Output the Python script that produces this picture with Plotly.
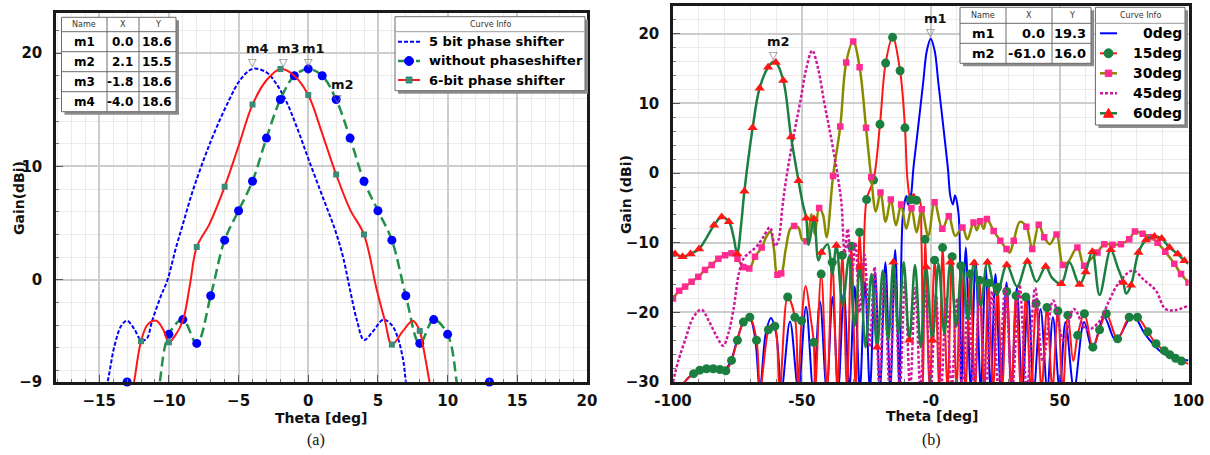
import plotly.graph_objects as go

W, H = 1210, 455
FONT = "DejaVu Sans"

# ======================= panel (a) data =======================
a5_x = [-15.0, -14.4, -13.9, -13.4, -13.0, -12.5, -12.0, -11.6, -11.2, -10.6, -10.1, -9.5, -9.0, -8.3, -7.5, -6.8,
        -5.7, -4.9, -4.0, -3.0, -2.3, -1.6, -0.8, 0.0, 1.1, 1.9, 2.5, 3.0, 3.5, 4.0, 4.6, 5.4, 6.0, 6.4, 6.8, 7.0, 7.3]
a5_y = [-12.0, -9.0, -5.8, -4.0, -3.6, -4.3, -5.3, -5.2, -3.6, -1.5, 0.0, 2.8, 4.9, 7.8, 10.6, 12.8,
        15.8, 17.6, 18.6, 18.3, 17.3, 15.8, 13.4, 10.7, 7.1, 4.5, 2.0, -0.9, -3.6, -5.3, -4.6, -3.5, -4.0, -5.0, -7.0, -9.0, -12.0]

a6_x = [-13.0, -12.5, -12.0, -11.5, -10.9, -10.4, -10.0, -9.6, -9.0, -8.5, -8.0, -7.1, -6.0, -5.0, -4.0, -3.0,
        -2.0, -1.0, 0.0, 1.0, 2.0, 3.0, 4.0, 4.9, 5.5, 6.0, 6.8, 7.5, 8.0, 8.2, 8.7, 9.1]
a6_y = [-12.0, -9.0, -5.4, -3.9, -3.6, -4.4, -5.5, -5.0, -3.6, -0.5, 2.9, 4.9, 8.2, 11.8, 15.45, 17.6,
        18.6, 18.0, 16.3, 12.9, 9.3, 6.2, 4.0, -0.8, -3.6, -5.7, -4.5, -3.6, -4.5, -5.6, -9.0, -12.0]
a6_mk = [-12.0, -10.0, -8.0, -6.0, -4.0, -2.0, 0.0, 2.0, 4.0, 6.0, 8.0]

awo_x = [-13.0, -12.0, -11.0, -10.65, -10.0, -9.0, -8.0, -7.0, -6.0, -5.0, -4.0, -3.0, -2.0, -1.0, 0.0,
         1.0, 2.0, 3.0, 4.0, 5.0, 6.0, 7.0, 8.0, 9.0, 10.0, 10.65, 11.0, 12.0, 13.0]
awo_y = [-9.0, -16.0, -13.0, -9.0, -4.8, -3.5, -5.6, -1.4, 3.5, 6.1, 8.7, 12.5, 15.9, 18.0, 18.6,
         18.0, 15.9, 12.5, 8.7, 6.1, 3.5, -1.4, -5.6, -3.5, -4.8, -9.0, -13.0, -16.0, -9.0]
awo_mk = [-13.0, -10.0, -9.0, -8.0, -7.0, -6.0, -5.0, -4.0, -3.0, -2.0, -1.0, 0.0, 1.0, 2.0, 3.0,
          4.0, 5.0, 6.0, 7.0, 8.0, 9.0, 10.0, 13.0]

a_names = ["5 bit phase shifter", "without phaseshifter", "6-bit phase shifter"]
a_mk_name = ["m1", "m2", "m3", "m4"]
a_mk_x = [0.0, 2.1, -1.8, -4.0]
a_mk_y = [18.6, 15.5, 18.6, 18.6]
a_xticks = [-15, -10, -5, 0, 5, 10, 15, 20]
a_yticks = [-9, 0, 10, 20]

# ======================= panel (b) data =======================
b0_x = [-100, -95.5, -92, -88, -84, -80, -77.5, -75, -72.5, -70.3, -68.2, -66.3, -64, -62, -60, -57.9, -54.6, -51.4,
        -48.4, -45.6, -43, -40.4, -38.1, -35.9, -33.7, -31.6, -29.5, -27.5, -25.5, -23.6, -21.6, -19.7, -17.6, -15.7,
        -13.8, -12.1, -10.8, -9.4, -8.8, -7.8, -6.7, -5.2, -3, -1.5, 0, 1.5, 3, 5.2, 6.7, 7.6, 8.6, 9.4, 10.8, 11.8,
        13.6, 15.5, 17.4, 19.4, 21.3, 23.2, 25.1, 27.2, 29.4, 31.3, 33.4, 35.5, 37.8, 40, 42.6, 45.2, 47.4, 50, 52.3,
        55.6, 59.5, 62.7, 67.3, 71.8, 78.3, 83.5, 90.6, 100]
b0_y = [-34, -30, -28.8, -28.1, -28.2, -28.3, -26.9, -23.8, -21.3, -20.7, -23.5, -31, -23, -20.8, -23, -31, -21.3, -31,
        -19.2, -31, -18.4, -31, -17.8, -31, -17.1, -31, -16.3, -31, -15.6, -31, -14.2, -31, -12.8, -31,
        -11, -31, -6, -3.3, -4.5, -3.5, 0.8, 5.6, 12.8, 17.6, 19.3, 17.6, 12.8, 5.6, 0.5, -3.3, -4.5, -3.2, -5.9, -31,
        -10.7, -31, -12.6, -31, -13.5, -31, -14.5, -31, -15.7, -31, -16.4, -31, -17.6, -31, -19.5, -31, -20.7, -31, -21.4,
        -31, -21.4, -25.2, -20.7, -24, -20.5, -23.3, -26, -26.9]

b15_x = [-100, -95.5, -92, -89.6, -87, -84.4, -81.8, -79.5, -77.3, -75, -72.7, -70.2, -67.6, -66.2, -63, -61.8, -60.5,
         -58.6, -55.5, -52.7, -51.5, -50.1, -48.5, -46.7, -45.4, -44.8, -42.5, -40.2, -38.2, -36.2, -34.3, -32.5, -30.8,
         -29.1, -27.6, -26.3, -24.9, -22.2, -19.7, -17.5, -14.8, -11.9, -10, -9, -7.8, -6.6, -5.6, -4.5, -3.6, -3.0,
         -2.2, -0.4, 1.5, 3.3, 4.6, 6.5, 8.3, 10.0, 11.7, 13.5, 15.3, 17.2, 18.9, 20.7, 22.4, 24.2, 25.9, 27.7, 29.5,
         31.3, 33.1, 35.0, 36.9, 38.9, 40.9, 43.0, 45.1, 47.2, 49.3, 51.3, 53.2, 55.3, 57.0, 59.6, 62.9, 65.5, 68.1,
         72.5, 77.0, 80.2, 84.2, 87.4, 90.6, 92.8, 95.0, 97.3, 100]
b15_y = [-34, -30, -28.8, -28.3, -28.1, -28.1, -28.2, -28.4, -26.9, -24, -21.4, -20.7, -24, -31, -22.5, -21.8, -22,
         -31, -17.8, -20.7, -31, -21.2, -16.2, -20.5, -24.3, -31, -14.5, -31, -12.8, -31, -11.8, -31, -10.5,
         -31, -8.5, -18, -3.8, -1.0, 7.0, 15.8, 19.5, 14.7, 6.5, -1.1, -3.8, -3.0, -3.9, -3.7, -9.8, -31,
         -9.5, -31, -12.5, -31, -10.7, -31, -12.0, -31, -13.3, -31, -14.5, -31, -15.4, -31, -15.8, -31, -16.4, -31, -17.0,
         -31, -17.6, -31, -17.8, -31, -18.7, -31, -19.3, -31, -19.8, -31, -20.4, -27, -23.3, -20.2, -25.0, -22.5, -20.2,
         -23.8, -20.7, -20.7, -22.8, -24.5, -25.5, -26.1, -26.6, -27.0, -27.4]
b15_mk = [-92, -89.6, -87, -84.4, -81.8, -79.5, -77.3, -75, -72.7, -70.2, -67.6, -63, -60.5, -55.5, -52.7, -50.1,
          -45.4, -42.5, -38.2, -34.3, -30.8, -27.6, -24.9, -22.2, -19.7, -17.5, -14.8, -11.9, -10, -7.8, -5.6, -2.2,
          1.5, 4.6, 8.3, 11.7, 15.3, 18.9, 22.4, 25.9, 29.5, 33.1, 36.9, 40.9, 45.1, 49.3, 53.2, 57.0, 59.6, 62.9,
          65.5, 68.1, 72.5, 77.0, 80.2, 84.2, 87.4, 90.6, 92.8, 95.0, 97.3]

b30_x = [-100, -97.6, -95.3, -92.8, -90.2, -87.6, -85, -82.4, -79.8, -77.3, -75, -72.7, -70.4, -68.2, -65.6, -63.6,
         -62.2, -60.8, -59.5, -58.0, -56.3, -54.5, -53.0, -51.4, -49.8, -48.2, -46.3, -45.0, -43.3, -41.8, -40.4, -37.9,
         -35.1, -32.8, -30.1, -27.6, -25.1, -23.1, -21.3, -19.5, -17.5, -15.5, -13.5, -11.5, -9.5, -7.5, -5.5, -3.5,
         -1.0, 1.5, 4.5, 7.0, 9.5, 12.3, 14.2, 16.6, 17.9, 19.2, 20.5, 21.8, 24.4, 27.0, 29.4, 30.6, 32.2, 34.6, 37.1,
         39.4, 41.9, 44.0, 46.2, 48.8, 51.3, 53.2, 56.9, 59.5, 62.0, 64.7, 67.3, 70.5, 73.8, 77.0, 79.2, 82.2, 85.2,
         88.0, 91.0, 94.5, 97.1, 100]
b30_y = [-18.0, -16.9, -16.3, -15.6, -14.9, -13.9, -13.2, -12.3, -11.8, -11.5, -12.3, -13.5, -13.7, -12.0, -10.7, -9.0,
         -8.4, -11.0, -14.6, -14.4, -11.0, -8.0, -7.6, -7.8, -9.6, -9.8, -5.9, -8.8, -5.0, -6.0, -9.2, -0.4,
         6.7, 15.9, 18.9, 15.2, 6.5, -0.6, -5.5, -2.8, -7.0, -3.8, -7.5, -4.5, -8.0, -5.0, -8.5, -5.2,
         -9.0, -4.2, -8.0, -6.2, -9.0, -7.8, -9.5, -7.1, -8.2, -6.9, -8.0, -6.6, -8.3, -9.7, -10.9, -11.4, -9.7, -7.0, -7.7,
         -10.9, -7.4, -9.2, -10.2, -8.8, -13.2, -12.8, -10.7, -13.3, -12.4, -11.4, -10.2, -10.3, -10.2, -9.5, -8.4, -8.7, -9.2,
         -10.0, -11.3, -13.0, -14.5, -15.7]
b30_mk = [-100, -97.6, -95.3, -92.8, -90.2, -87.6, -85, -82.4, -79.8, -77.3, -75, -72.7, -70.4, -68.2, -65.6, -59.5,
          -58.0, -53.0, -48.2, -43.3, -37.9, -35.1, -32.8, -30.1, -27.6, -25.1, -23.1, -19.5, -15.5, -11.5, -7.5, -3.5,
          1.5, 4.5, 7.0, 12.3, 16.6, 19.2, 21.8, 24.4, 27.0, 29.4, 32.2, 37.1, 39.4, 41.9, 44.0, 48.8, 51.3, 56.9,
          59.5, 64.7, 67.3, 70.5, 73.8, 77.0, 79.2, 82.2, 85.2, 88.0, 91.0, 94.5, 97.1, 100]

b45_x = [-100, -97.9, -95.3, -92.1, -89.0, -86.0, -83.0, -80.5, -78.5, -76.5, -74.5, -72.5, -70.2, -67.5, -65.0,
         -62.4, -60.4, -59.0, -57.6, -56.4, -54.5, -52.6, -50.6, -48.3, -46.0, -43.7, -41.4, -39.4, -37.5, -35.6,
         -34.6, -33.4, -32.2, -30.7, -29.2, -27.6, -25.7, -23.7, -21.8, -19.9, -18.0, -16.0, -14.0, -12.0, -10.0,
         -8.0, -6.0, -4.0, -2.0, 0.0, 2.0, 4.0, 6.0, 8.1, 10.2, 12.3, 14.5, 16.7, 19.0, 21.4, 23.8, 26.3, 28.9, 31.6,
         34.4, 37.3, 40.5, 43.5, 47.5, 51.5, 55.5, 60.5, 65.0, 69.0, 72.7, 78.3, 82.9, 87.4, 91.0, 94.8, 100]
b45_y = [-30, -26.9, -24.0, -20.7, -19.6, -21.3, -23.5, -24.8, -23.0, -19.5, -14.5, -12.2, -11.4, -10.5, -9.2,
         -7.8, -10.5, -9.5, -5.0, -1.6, 2.7, 6.5, 10.3, 15.0, 17.6, 15.0, 10.3, 6.5, 2.7, -1.6,
         -4.5, -11.5, -8.0, -15.0, -10.0, -20.0, -11.7, -25.0, -13.5, -31, -14.5, -31, -15.0, -31, -15.5,
         -31, -16.5, -31, -17.0, -31, -17.5, -31, -18.0, -31, -18.0, -31, -18.0, -31, -17.5, -31, -17.0, -31, -16.5, -31,
         -16.0, -31, -16.5, -27.0, -18.3, -24.0, -19.5, -22.5, -21.5, -18.5, -15.9, -14.0, -15.4, -16.9, -19.5, -19.7, -19.0]

b60_x = [-100, -99.2, -96.3, -93.2, -89.9, -87.0, -84.1, -81.1, -78.3, -76.6, -75.1, -73.6, -72.3, -69.1, -66.4, -63.1,
         -61.0, -60.1, -57.2, -54.2, -51.3, -49.6, -48.3, -47.4, -45.3, -43.6, -42.4, -40.0, -38.2, -36.6, -34.2, -31.7,
         -29.6, -27.5, -25.3, -23.0, -20.8, -18.6, -16.5, -14.5, -12.5, -10.5, -8.3, -6.1, -3.9, -1.8, 0.6, 3.0, 5.3,
         7.6, 9.9, 12.1, 14.4, 16.8, 19.4, 22.0, 25.6, 29.5, 33.5, 37.5, 41.0, 44.6, 47.0, 50.6, 53.8, 57.7, 60.1, 62.7,
         65.5, 69.8, 72.5, 74.7, 75.8, 77.7, 80.6, 83.5, 86.8, 89.6, 92.6, 95.8, 98.4, 100]
b60_y = [-11.5, -11.6, -12.0, -11.6, -10.9, -9.3, -7.5, -6.3, -7.0, -9.0, -11.6, -7.5, -2.6, 6.5, 12.2, 15.2,
         16.0, 15.9, 13.3, 5.2, -1.1, -4.5, -6.5, -10.3, -6.6, -12.5, -11.4, -10.2, -14.5, -10.4, -19.0, -12.0,
         -22.0, -13.5, -25.0, -14.5, -25.0, -14.0, -24.0, -12.8, -23.0, -12.8, -24.0, -13.2, -25.0, -13.5, -24.0, -13.0, -23.0,
         -12.8, -22.0, -13.0, -21.0, -12.9, -19.0, -12.8, -17.5, -13.2, -16.3, -12.7, -15.6, -13.4, -15.0, -15.9, -12.8, -16.0,
         -14.2, -11.3, -17.5, -11.0, -13.5, -15.7, -17.3, -16.1, -11.4, -9.6, -9.1, -9.4, -10.7, -11.6, -12.6, -13.0]
b60_mk = [-99.2, -96.3, -93.2, -89.9, -84.1, -81.1, -78.3, -75.1, -72.3, -69.1, -66.4, -63.1, -60.1, -57.2, -54.2,
          -51.3, -48.3, -45.3, -42.4, -36.6, -27.5, -20.8, -14.5, -8.3, -1.8, 0.6, 7.6, 16.8, 22.0, 29.5, 37.5, 44.6,
          50.6, 57.7, 60.1, 62.7, 69.8, 74.7, 77.7, 80.6, 83.5, 86.8, 89.6, 92.6, 95.8, 98.4]

b_names = ["0deg", "15deg", "30deg", "45deg", "60deg"]
b_mk_name = ["m1", "m2"]
b_mk_x = [0.0, -61.0]
b_mk_y = [19.3, 16.0]
b_xticks = [-100, -50, 0, 50, 100]
b_xticklabels = ["-100", "-50", "-0", "50", "100"]
b_yticks = [-30, -20, -10, 0, 10, 20]

for xs, ys in [(a5_x, a5_y), (a6_x, a6_y), (awo_x, awo_y), (b0_x, b0_y), (b15_x, b15_y),
               (b30_x, b30_y), (b45_x, b45_y), (b60_x, b60_y)]:
    assert len(xs) == len(ys), (len(xs), len(ys))


def pick(xs, ys, marks):
    lut = dict(zip(xs, ys))
    return list(marks), [lut[m] for m in marks]


# ======================= styles =======================
BLUE = "#0000ff"
RED = "#ff1616"
GREEN_A = "#23904a"
TEAL = "#3b8b79"
GREEN_B = "#1b7f40"
OLIVE = "#8a8a00"
PINK = "#ff2a92"
MAGENTA = "#d0189c"

fig = go.Figure()


def line_tr(x, y, color, width, dash, xa, ya):
    return go.Scatter(x=x, y=y, mode="lines", xaxis=xa, yaxis=ya, hoverinfo="skip",
                      line=dict(color=color, width=width, dash=dash, shape="spline", smoothing=1.0))


def mark_tr(x, y, symbol, size, color, xa, ya, clip=True):
    return go.Scatter(x=x, y=y, mode="markers", xaxis=xa, yaxis=ya, hoverinfo="skip", cliponaxis=clip,
                      marker=dict(symbol=symbol, size=size, color=color, line=dict(width=0)))


# panel (a)
fig.add_trace(line_tr(a5_x, a5_y, BLUE, 2, "4px,2px", "x", "y"))
fig.add_trace(line_tr(awo_x, awo_y, GREEN_A, 2.5, "10px,5px", "x", "y"))
mx, my = pick(awo_x, awo_y, awo_mk)
fig.add_trace(mark_tr(mx, my, "circle", 9, BLUE, "x", "y", clip=False))
fig.add_trace(line_tr(a6_x, a6_y, RED, 2, "solid", "x", "y"))
mx, my = pick(a6_x, a6_y, a6_mk)
fig.add_trace(mark_tr(mx, my, "square", 6, TEAL, "x", "y"))

# panel (b)
fig.add_trace(line_tr(b0_x, b0_y, BLUE, 2, "solid", "x2", "y2"))
fig.add_trace(line_tr(b15_x, b15_y, RED, 2, "solid", "x2", "y2"))
mx, my = pick(b15_x, b15_y, b15_mk)
fig.add_trace(mark_tr(mx, my, "circle", 9, GREEN_B, "x2", "y2"))
fig.add_trace(line_tr(b30_x, b30_y, OLIVE, 2.5, "solid", "x2", "y2"))
mx, my = pick(b30_x, b30_y, b30_mk)
fig.add_trace(mark_tr(mx, my, "square", 6.5, PINK, "x2", "y2"))
fig.add_trace(line_tr(b45_x, b45_y, MAGENTA, 2.5, "3px,2px", "x2", "y2"))
fig.add_trace(line_tr(b60_x, b60_y, GREEN_B, 2.5, "solid", "x2", "y2"))
mx, my = pick(b60_x, b60_y, b60_mk)
fig.add_trace(mark_tr(mx, my, "triangle-up", 9, RED, "x2", "y2"))

# ======================= axes =======================
tickfont = dict(family=FONT, size=15, color="#111", weight="bold")


def axis(**kw):
    d = dict(showline=True, linecolor="#1a1a1a", linewidth=2.5, mirror=True,
             ticks="inside", ticklen=7, tickwidth=1, tickcolor="#555",
             showgrid=True, gridcolor="#cdcdcd", gridwidth=1.5, zeroline=False,
             tickfont=tickfont, ticklabelstandoff=3, fixedrange=True, automargin=False)
    d.update(kw)
    return d


def minor(dt):
    return dict(dtick=dt, tick0=0, ticks="inside", ticklen=3, tickwidth=1, tickcolor="#777",
                showgrid=True, gridcolor="#ebebeb", gridwidth=1)


fig.update_layout(
    width=W, height=H, margin=dict(l=0, r=0, t=0, b=0, autoexpand=False),
    paper_bgcolor="white", plot_bgcolor="white", showlegend=False,
    xaxis=axis(domain=[56 / W, 587 / W], range=[-18.1, 20], tickmode="array", tickvals=a_xticks,
               minor=minor(1), anchor="y"),
    yaxis=axis(domain=[1 - 382 / H, 1 - 13.3 / H], range=[-9, 23.5], tickmode="array", tickvals=a_yticks,
               minor=minor(2), anchor="x", ticklabelstandoff=8),
    xaxis2=axis(domain=[673 / W, 1188.5 / W], range=[-100, 100], tickmode="array", tickvals=b_xticks,
                ticktext=b_xticklabels, minor=minor(10), anchor="y2"),
    yaxis2=axis(domain=[1 - 382 / H, 1 - 6 / H], range=[-30, 24], tickmode="array", tickvals=b_yticks,
                minor=minor(2), anchor="x2", ticklabelstandoff=8),
)

# ======================= decorations (titles, tables, legends, captions) =======================
shapes, annos = [], []


def fx(x):
    return x / W


def fy(y):
    return 1 - y / H


def rect(x0, y0, x1, y1, fill, line_color=None, lw=1):
    return dict(type="rect", xref="paper", yref="paper", x0=fx(x0), x1=fx(x1), y0=fy(y1), y1=fy(y0),
                fillcolor=fill, layer="above",
                line=dict(color=line_color if line_color else fill, width=lw if line_color else 0))


def seg(x0, y0, x1, y1, color, width=1, dash="solid"):
    return dict(type="line", xref="paper", yref="paper", x0=fx(x0), x1=fx(x1), y0=fy(y0), y1=fy(y1),
                layer="above", line=dict(color=color, width=width, dash=dash))


def mk_shape(symbol, xp, yp, size, color):
    r = size / 2
    d = dict(xref="paper", yref="paper", xsizemode="pixel", ysizemode="pixel", xanchor=fx(xp), yanchor=fy(yp),
             fillcolor=color, layer="above", line=dict(color=color, width=1))
    if symbol == "circle":
        d.update(type="circle", x0=-r, x1=r, y0=-r, y1=r)
    elif symbol == "square":
        d.update(type="rect", x0=-r, x1=r, y0=-r, y1=r)
    else:
        d.update(type="path", path=f"M{-r},{-r * 0.8} L{r},{-r * 0.8} L0,{r} Z")
    return d


def text(x, y, s, size, bold=True, anchor="center", color="#000", family=FONT, angle=0):
    annos.append(dict(xref="paper", yref="paper", x=fx(x), y=fy(y), text=s, showarrow=False,
                      xanchor=anchor, yanchor="middle", textangle=angle, borderpad=0,
                      font=dict(family=family, size=size, color=color, weight="bold" if bold else "normal")))


def add_table(xe, ye, names, xs, ys, size, pad_x, pad_y):
    shapes.append(rect(xe[0] + 3, ye[0] + 3, xe[-1] + 3, ye[-1] + 3, "#8c8c8c"))
    shapes.append(rect(xe[0], ye[0], xe[-1], ye[-1], "white", "#6a6a6a", 1))
    for x in xe[1:-1]:
        shapes.append(seg(x, ye[0], x, ye[-1], "#6a6a6a"))
    for y in ye[1:-1]:
        shapes.append(seg(xe[0], y, xe[-1], y, "#6a6a6a"))
    hy = (ye[0] + ye[1]) / 2
    for i, h in enumerate(["Name", "X", "Y"]):
        text((xe[i] + xe[i + 1]) / 2, hy, h, 8, bold=False, color="#333")
    for r, (n, xv, yv) in enumerate(zip(names, xs, ys)):
        cy = (ye[r + 1] + ye[r + 2]) / 2
        text((xe[0] + xe[1]) / 2, cy, n, size)
        text(xe[2] - pad_x, cy, f"{xv:.1f}", size, anchor="right")
        text(xe[3] - pad_y, cy, f"{yv:.1f}", size, anchor="right")


def add_legend(box, hline_y, head, entries, samp, text_x, anchor, size):
    x0, y0, x1, y1 = box
    shapes.append(rect(x0 + 3, y0 + 3, x1 + 3, y1 + 3, "#8c8c8c"))
    shapes.append(rect(x0, y0, x1, y1, "white", "#6a6a6a", 1))
    shapes.append(seg(x0, hline_y, x1, hline_y, "#9a9a9a"))
    text(head[0], head[1], "Curve Info", 8, bold=False, color="#333")
    for e in entries:
        shapes.append(seg(samp[0], e["y"], samp[1], e["y"], e["color"], e["width"], e["dash"]))
        if e.get("marker"):
            sym, col, sz = e["marker"]
            shapes.append(mk_shape(sym, (samp[0] + samp[1]) / 2, e["y"], sz, col))
        text(text_x, e["y"], e["label"], size, anchor=anchor)


# axis titles
text(321, 418, "Theta [deg]", 14, color="#111")
text(932, 416, "Theta [deg]", 14, color="#111")
text(19, 198, "Gain(dBi)", 14, color="#111", angle=-90)
text(626, 195, "Gain (dBi)", 14, color="#111", angle=-90)

# panel (a) table + legend
add_table([61.5, 107, 139, 176], [17.3, 31.7, 51.7, 71.7, 91.7, 111.7],
          a_mk_name, a_mk_x, a_mk_y, 12, 5, 3)
add_legend((395, 16.7, 585, 90.7), 31.7, (490, 24.5), [
    dict(y=41.7, color=BLUE, width=2, dash="4px,2px", label=a_names[0]),
    dict(y=61.0, color=GREEN_A, width=2.5, dash="6px,3px", marker=("circle", BLUE, 9), label=a_names[1]),
    dict(y=80.0, color=RED, width=2, dash="solid", marker=("square", TEAL, 6), label=a_names[2]),
], (398, 420), 428, "left", 13)

# panel (b) table + legend
add_table([960, 1006, 1052, 1091], [7.3, 23.3, 43.3, 63.3],
          b_mk_name, b_mk_x, b_mk_y, 13, 6, 4)
add_legend((1095.4, 7.3, 1185, 125), 23.3, (1140.5, 15.3), [
    dict(y=33.3, color=BLUE, width=2, dash="solid", label=b_names[0]),
    dict(y=53.3, color=RED, width=2, dash="solid", marker=("circle", GREEN_B, 9), label=b_names[1]),
    dict(y=73.3, color=OLIVE, width=2.5, dash="solid", marker=("square", PINK, 6.5), label=b_names[2]),
    dict(y=93.3, color=MAGENTA, width=2.5, dash="3px,2px", label=b_names[3]),
    dict(y=113.3, color=GREEN_B, width=2.5, dash="solid", marker=("triangle", RED, 10), label=b_names[4]),
], (1100, 1117), 1183, "right", 14)


# marker flags on the curves
def flag(xa, ya, x, y, name):
    annos.append(dict(xref=xa, yref=ya, x=x, y=y, text="▽", showarrow=False, yanchor="middle", yshift=6,
                      font=dict(family=FONT, size=11, color="#777")))
    annos.append(dict(xref=xa, yref=ya, x=x, y=y, text=name, showarrow=False, yanchor="middle", yshift=20,
                      xshift=5, font=dict(family=FONT, size=13, color="#111", weight="bold")))


for n, x, y in zip(a_mk_name, a_mk_x, a_mk_y):
    flag("x", "y", x, y, n)
for n, x, y in zip(b_mk_name, b_mk_x, b_mk_y):
    flag("x2", "y2", x, y, n)

# captions
text(316, 440, "(a)", 16, bold=False, color="#111", family="Liberation Serif")
text(931, 440, "(b)", 16, bold=False, color="#111", family="Liberation Serif")

fig.update_layout(shapes=shapes, annotations=annos)
fig.write_html("out.html", config={"displayModeBar": False},
               post_script="document.body.style.margin='0px';document.body.style.overflow='hidden';")
